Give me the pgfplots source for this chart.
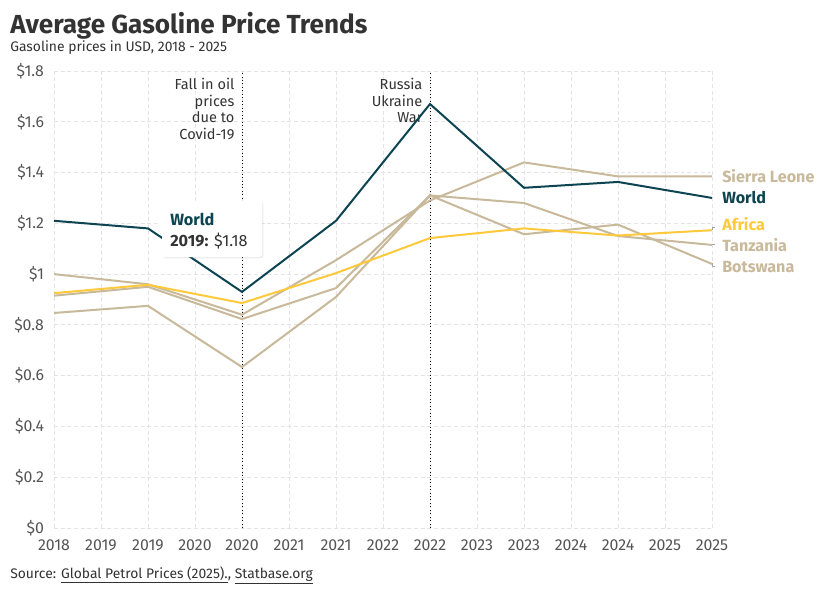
\documentclass[border=0pt]{standalone}
\usepackage{pgfplots}
\pgfplotsset{compat=1.18}
\usepackage{fontspec}
\setmainfont{Fira Sans}
\usetikzlibrary{shadows}
\definecolor{worldc}{HTML}{0D4452}
\definecolor{africac}{HTML}{FFC93C}
\definecolor{beige}{HTML}{C9B99B}
\definecolor{gridc}{HTML}{E4E4E4}
\definecolor{txt}{HTML}{333333}
\definecolor{ticktxt}{HTML}{555555}

\begin{document}
\begin{tikzpicture}
% page frame, 826 x 593 px
\path[use as bounding box] (0,0) rectangle (619.5pt,-444.75pt);
\fill[white] (0,0) rectangle (619.5pt,-444.75pt);

\begin{scope}[x=0.75pt,y=-0.75pt]
\node[anchor=base west,inner sep=0,font=\fontsize{19.6}{21}\selectfont\bfseries,text=txt] at (10,33) {Average Gasoline Price Trends};
\node[anchor=base west,inner sep=0,font=\fontsize{10.4}{11}\selectfont,text=txt] at (10,51) {Gasoline prices in USD, 2018 - 2025};
\node[anchor=base west,inner sep=0,font=\fontsize{10.4}{11}\selectfont,text=txt] at (10,578)
  {Source: \underline{Global Petrol Prices (2025).}, \underline{Statbase.org}};
\end{scope}

\begin{axis}[
  at={(40.5pt,-396pt)}, anchor=south west,
  scale only axis, width=493.5pt, height=342.75pt,
  xmin=2018, xmax=2025, ymin=0, ymax=1.8,
  clip=false,
  axis line style={draw=none},
  major tick length=0pt,
  xtick={2018,2018.5,...,2025},
  xticklabels={2018,2019,2019,2020,2020,2021,2021,2022,2022,2023,2023,2024,2024,2025,2025},
  ytick={0,0.2,...,1.8},
  yticklabels={\$0,\$0.2,\$0.4,\$0.6,\$0.8,\$1,\$1.2,\$1.4,\$1.6,\$1.8},
  ticklabel style={font=\fontsize{11.9}{12}\selectfont, text=ticktxt},
  xticklabel style={yshift=-5pt},
  yticklabel style={xshift=-4pt},
  grid=major,
  major grid style={gridc, dash pattern=on 3pt off 2pt, line width=0.6pt},
]
% event markers
\draw[black, dotted, line width=0.6pt] (axis cs:2020,0) -- (axis cs:2020,1.8);
\draw[black, dotted, line width=0.6pt] (axis cs:2022,0) -- (axis cs:2022,1.8);
\node[anchor=north east, align=right, inner sep=0, text=txt,
  font=\fontsize{10.9}{12.6}\selectfont] at ([xshift=-5.5pt,yshift=-5pt]axis cs:2020,1.8)
  {Fall in oil\\prices\\due to\\Covid-19};
\node[anchor=north east, align=right, inner sep=0, text=txt,
  font=\fontsize{10.9}{12.6}\selectfont] at ([xshift=-5.5pt,yshift=-5pt]axis cs:2022,1.8)
  {Russia\\Ukraine\\War};

% beige countries
\addplot[beige, line width=1.5pt] coordinates {
  (2018,1.00)(2019,0.96)(2020,0.84)(2021,1.055)(2022,1.29)(2023,1.44)(2024,1.385)(2025,1.385)};
\addplot[beige, line width=1.5pt] coordinates {
  (2018,0.915)(2019,0.95)(2020,0.823)(2021,0.945)(2022,1.31)(2023,1.28)(2024,1.15)(2025,1.115)};
\addplot[beige, line width=1.5pt] coordinates {
  (2018,0.847)(2019,0.875)(2020,0.634)(2021,0.91)(2022,1.31)(2023,1.157)(2024,1.195)(2025,1.04)};
% Africa
\addplot[africac, line width=1.5pt] coordinates {
  (2018,0.925)(2019,0.958)(2020,0.886)(2021,1.004)(2022,1.142)(2023,1.18)(2024,1.152)(2025,1.173)};
% World
\addplot[worldc, line width=1.5pt] coordinates {
  (2018,1.21)(2019,1.18)(2020,0.93)(2021,1.21)(2022,1.67)(2023,1.34)(2024,1.363)(2025,1.30)};

% end labels
\begin{scope}[font=\fontsize{12.1}{13}\selectfont\bfseries, inner sep=0]
\node[anchor=west, text=beige] at ([xshift=7.5pt]axis cs:2025,1.385) {Sierra Leone};
\node[anchor=west, text=worldc] at ([xshift=7.5pt]axis cs:2025,1.30) {World};
\node[anchor=west, text=africac] at ([xshift=7.5pt]axis cs:2025,1.197) {Africa};
\node[anchor=west, text=beige] at ([xshift=7.5pt]axis cs:2025,1.115) {Tanzania};
\node[anchor=west, text=beige] at ([xshift=7.5pt]axis cs:2025,1.027) {Botswana};
\end{scope}
\end{axis}

\begin{scope}[x=0.75pt,y=-0.75pt]
% leader ticks at the right end
\draw[gray!70, line width=0.4pt] (712,230) -- (712,227) -- (715,227);
\draw[gray!70, line width=0.4pt] (712,244) -- (715,244);
\draw[gray!70, line width=0.4pt] (712,263) -- (712,266) -- (715,266);
% tooltip
\fill[white, rounded corners=2pt, drop shadow={opacity=0.15, shadow xshift=1pt, shadow yshift=-1pt}]
  (162,201) rectangle (262,257);
\fill[white] (155,226) -- (163,218) -- (163,236) -- cycle;
\node[anchor=base west, inner sep=0, font=\fontsize{12.2}{13}\selectfont\bfseries, text=worldc]
  at (170,225) {World};
\node[anchor=base west, inner sep=0, font=\fontsize{12.2}{13}\selectfont, text=txt]
  at (170,246) {\textbf{2019:} \$1.18};
\end{scope}
\end{tikzpicture}
\end{document}
